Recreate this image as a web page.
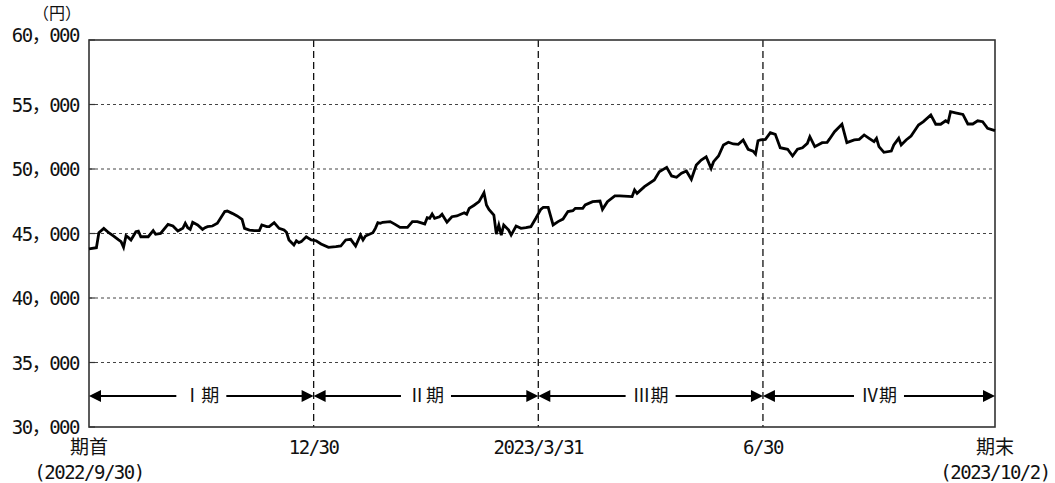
<!DOCTYPE html>
<html>
<head>
<meta charset="utf-8">
<script src="https://cdn.jsdelivr.net/npm/d3@7"></script>
<style>
  html, body { margin: 0; padding: 0; background: #fff; }
  #chart-container { width: 1055px; height: 483px; }
  text { font-family: "DejaVu Sans Mono", "Noto Sans CJK JP", monospace; fill: #111; }
</style>
</head>
<body>
<div id="chart-container"></div>
<script>
// Fund NAV over the fiscal year, split into four quarters

// NAV points (date, yen)
const navSeries = [
  ["2022-09-30", 43800], ["2022-10-03", 43900], ["2022-10-04", 45060], ["2022-10-06", 45400],
  ["2022-10-08", 45060], ["2022-10-10", 44800], ["2022-10-12", 44500], ["2022-10-13", 44370],
  ["2022-10-14", 43930], ["2022-10-15", 44830], ["2022-10-16", 44680], ["2022-10-17", 44500],
  ["2022-10-19", 45140], ["2022-10-20", 45190], ["2022-10-21", 44750], ["2022-10-24", 44750],
  ["2022-10-26", 45220], ["2022-10-27", 44940], ["2022-10-29", 45010], ["2022-11-01", 45710],
  ["2022-11-03", 45580], ["2022-11-05", 45190], ["2022-11-07", 45400], ["2022-11-08", 45790],
  ["2022-11-09", 45450], ["2022-11-10", 45320], ["2022-11-11", 45870], ["2022-11-13", 45660],
  ["2022-11-15", 45320], ["2022-11-16", 45450], ["2022-11-17", 45530], ["2022-11-19", 45580],
  ["2022-11-21", 45790], ["2022-11-24", 46700], ["2022-11-25", 46740], ["2022-11-27", 46560],
  ["2022-11-29", 46360], ["2022-12-01", 46100], ["2022-12-02", 45400], ["2022-12-04", 45270],
  ["2022-12-06", 45220], ["2022-12-08", 45220], ["2022-12-09", 45660], ["2022-12-11", 45530],
  ["2022-12-12", 45530], ["2022-12-14", 45840], ["2022-12-16", 45400], ["2022-12-18", 45270],
  ["2022-12-19", 45090], ["2022-12-20", 44500], ["2022-12-22", 44110], ["2022-12-23", 44440],
  ["2022-12-24", 44290], ["2022-12-25", 44370], ["2022-12-27", 44750], ["2022-12-29", 44500],
  ["2022-12-31", 44440], ["2023-01-02", 44190], ["2023-01-05", 43930], ["2023-01-08", 43980],
  ["2023-01-10", 44030], ["2023-01-12", 44500], ["2023-01-14", 44550], ["2023-01-16", 44030],
  ["2023-01-18", 44880], ["2023-01-19", 44500], ["2023-01-20", 44800], ["2023-01-23", 45060],
  ["2023-01-24", 45400], ["2023-01-25", 45840], ["2023-01-26", 45790], ["2023-01-27", 45870],
  ["2023-01-30", 45920], ["2023-02-01", 45710], ["2023-02-03", 45470], ["2023-02-06", 45470],
  ["2023-02-08", 45920], ["2023-02-10", 45920], ["2023-02-13", 45740], ["2023-02-14", 46230],
  ["2023-02-15", 46180], ["2023-02-16", 46510], ["2023-02-17", 46180], ["2023-02-19", 46300],
  ["2023-02-20", 46490], ["2023-02-22", 45870], ["2023-02-24", 46300], ["2023-02-26", 46360],
  ["2023-03-01", 46610], ["2023-03-02", 46490], ["2023-03-03", 46950], ["2023-03-05", 47190],
  ["2023-03-07", 47470], ["2023-03-09", 48160], ["2023-03-10", 47210], ["2023-03-11", 46870],
  ["2023-03-13", 46430], ["2023-03-14", 44960], ["2023-03-15", 45660], ["2023-03-16", 44880],
  ["2023-03-17", 45660], ["2023-03-19", 45270], ["2023-03-20", 44880], ["2023-03-22", 45580],
  ["2023-03-24", 45400], ["2023-03-26", 45450], ["2023-03-28", 45530], ["2023-03-30", 46180],
  ["2023-04-01", 46870], ["2023-04-02", 47020], ["2023-04-04", 47020], ["2023-04-06", 45660],
  ["2023-04-08", 45920], ["2023-04-10", 46120], ["2023-04-12", 46700], ["2023-04-14", 46770],
  ["2023-04-15", 46950], ["2023-04-18", 46950], ["2023-04-19", 47210], ["2023-04-22", 47470],
  ["2023-04-25", 47520], ["2023-04-26", 46870], ["2023-04-28", 47470], ["2023-05-01", 47910],
  ["2023-05-03", 47910], ["2023-05-08", 47860], ["2023-05-09", 48370], ["2023-05-10", 48110],
  ["2023-05-13", 48630], ["2023-05-17", 49150], ["2023-05-19", 49790], ["2023-05-22", 50130],
  ["2023-05-24", 49460], ["2023-05-26", 49360], ["2023-05-28", 49670], ["2023-05-30", 49850],
  ["2023-06-01", 49200], ["2023-06-03", 50310], ["2023-06-05", 50700], ["2023-06-07", 50950],
  ["2023-06-09", 50050], ["2023-06-10", 50570], ["2023-06-12", 51010], ["2023-06-14", 51860],
  ["2023-06-16", 52070], ["2023-06-18", 51940], ["2023-06-20", 51910], ["2023-06-22", 52250],
  ["2023-06-24", 51530], ["2023-06-26", 51390], ["2023-06-27", 51160], ["2023-06-28", 52190],
  ["2023-06-29", 52250], ["2023-07-01", 52300], ["2023-07-03", 52810], ["2023-07-05", 52690],
  ["2023-07-07", 51650], ["2023-07-10", 51530], ["2023-07-12", 51010], ["2023-07-14", 51530],
  ["2023-07-16", 51650], ["2023-07-18", 51990], ["2023-07-19", 52500], ["2023-07-21", 51730],
  ["2023-07-24", 52040], ["2023-07-26", 52070], ["2023-07-27", 52330], ["2023-07-29", 52890],
  ["2023-08-01", 53470], ["2023-08-03", 52040], ["2023-08-06", 52250], ["2023-08-08", 52300],
  ["2023-08-10", 52640], ["2023-08-12", 52380], ["2023-08-14", 52120], ["2023-08-15", 52380],
  ["2023-08-16", 51730], ["2023-08-18", 51290], ["2023-08-21", 51390], ["2023-08-22", 51860],
  ["2023-08-24", 52380], ["2023-08-25", 51860], ["2023-08-27", 52250], ["2023-08-29", 52560],
  ["2023-09-01", 53410], ["2023-09-03", 53670], ["2023-09-06", 54190], ["2023-09-08", 53470],
  ["2023-09-10", 53470], ["2023-09-12", 53740], ["2023-09-13", 53620], ["2023-09-14", 54440],
  ["2023-09-16", 54360], ["2023-09-19", 54230], ["2023-09-21", 53490], ["2023-09-23", 53490],
  ["2023-09-25", 53740], ["2023-09-27", 53670], ["2023-09-29", 53160], ["2023-10-02", 52970]
];

// Quarter boundaries and labels
const periodBounds = ["2022-09-30", "2022-12-30", "2023-03-31", "2023-06-30", "2023-10-02"];
const periodLabels = ["Ⅰ期", "Ⅱ期", "Ⅲ期", "Ⅳ期"];

// x-axis labels (one per boundary; second line in parentheses)
const xTickLabels = [
  ["期首", "(2022/9/30)"],
  ["12/30"],
  ["2023/3/31"],
  ["6/30"],
  ["期末", "(2023/10/2)"]
];

const yTicks = [30000, 35000, 40000, 45000, 50000, 55000, 60000];
const yUnit = "（円）";

function drawChart() {
  const width = 1055;
  const height = 483;
  const margin = { top: 40, right: 60, bottom: 56, left: 89 };
  const parse = d3.timeParse("%Y-%m-%d");

  const data = navSeries.map(([d, v]) => ({ date: parse(d), value: v }));
  const bounds = periodBounds.map(parse);

  const svg = d3
    .select("#chart-container")
    .append("svg")
    .attr("width", width)
    .attr("height", height)
    .attr("viewBox", `0 0 ${width} ${height}`);

  const x = d3
    .scaleTime()
    .domain([bounds[0], bounds[bounds.length - 1]])
    .range([margin.left, width - margin.right]);

  const y = d3
    .scaleLinear()
    .domain([yTicks[0], yTicks[yTicks.length - 1]])
    .range([height - margin.bottom, margin.top]);

  const x0 = x.range()[0], x1 = x.range()[1];
  const yTop = y.range()[1], yBot = y.range()[0];

  // Horizontal dotted gridlines (inner ticks only)
  svg
    .append("g")
    .selectAll("line")
    .data(yTicks.slice(1, -1))
    .enter()
    .append("line")
    .attr("x1", x0)
    .attr("x2", x1)
    .attr("y1", (d) => y(d))
    .attr("y2", (d) => y(d))
    .attr("stroke", "#444")
    .attr("stroke-width", 1)
    .attr("stroke-dasharray", "3,3");

  // small inward ticks on the left axis
  svg
    .append("g")
    .selectAll("line")
    .data(yTicks)
    .enter()
    .append("line")
    .attr("x1", x0)
    .attr("x2", x0 + 6)
    .attr("y1", (d) => y(d))
    .attr("y2", (d) => y(d))
    .attr("stroke", "#333")
    .attr("stroke-width", 1.2);

  // Vertical dashed quarter dividers
  svg
    .append("g")
    .selectAll("line")
    .data(bounds.slice(1, -1))
    .enter()
    .append("line")
    .attr("x1", (d) => x(d))
    .attr("x2", (d) => x(d))
    .attr("y1", yTop)
    .attr("y2", yBot)
    .attr("stroke", "#111")
    .attr("stroke-width", 1.3)
    .attr("stroke-dasharray", "7,4");

  // Frame
  svg
    .append("rect")
    .attr("x", x0)
    .attr("y", yTop)
    .attr("width", x1 - x0)
    .attr("height", yBot - yTop)
    .attr("fill", "none")
    .attr("stroke", "#333")
    .attr("stroke-width", 1.6);

  // Y labels
  const yFmt = (v) => d3.format(",")(v).replace(",", "，");
  svg
    .append("g")
    .selectAll("text")
    .data(yTicks)
    .enter()
    .append("text")
    .attr("x", x0 - 10)
    .attr("y", (d) => y(d) + (d === yTicks[yTicks.length - 1] ? 2 : 7))
    .attr("text-anchor", "end")
    .attr("font-size", 19)
    .attr("letter-spacing", -1.5)
    .text(yFmt);

  svg
    .append("text")
    .attr("x", 57)
    .attr("y", 19)
    .attr("text-anchor", "middle")
    .attr("font-size", 16)
    .style("font-family", '"Noto Sans CJK JP", sans-serif')
    .text(yUnit);

  // X labels
  const xLab = svg.append("g");
  xTickLabels.forEach((lines, i) => {
    const cx = x(bounds[i]);
    lines.forEach((t, j) => {
      const isCjk = /[期首末]/.test(t);
      xLab
        .append("text")
        .attr("x", cx)
        .attr("y", j === 0 ? 454 : 479)
        .attr("text-anchor", "middle")
        .attr("font-size", 19)
        .attr("letter-spacing", isCjk ? 0 : -1.5)
        .style("font-family", isCjk ? '"Noto Sans CJK JP", sans-serif' : null)
        .text(t);
    });
  });

  // Period arrows
  const arrowY = 396;
  const head = 12;
  const arrows = svg.append("g");
  periodLabels.forEach((label, i) => {
    const a = x(bounds[i]);
    const b = x(bounds[i + 1]);
    const mid = (a + b) / 2;

    arrows
      .append("line")
      .attr("x1", a + head - 1)
      .attr("x2", b - head + 1)
      .attr("y1", arrowY)
      .attr("y2", arrowY)
      .attr("stroke", "#000")
      .attr("stroke-width", 2);

    arrows
      .append("path")
      .attr("d", `M${a},${arrowY} L${a + head},${arrowY - 6} L${a + head},${arrowY + 6} Z`)
      .attr("fill", "#000");
    arrows
      .append("path")
      .attr("d", `M${b},${arrowY} L${b - head},${arrowY - 6} L${b - head},${arrowY + 6} Z`)
      .attr("fill", "#000");

    // white gap behind the label
    arrows
      .append("rect")
      .attr("x", mid - 25)
      .attr("y", arrowY - 10)
      .attr("width", 50)
      .attr("height", 20)
      .attr("fill", "#fff");

    arrows
      .append("text")
      .attr("x", mid)
      .attr("y", arrowY + 6)
      .attr("text-anchor", "middle")
      .attr("font-size", 18)
      .style("font-family", '"Noto Sans CJK JP", sans-serif')
      .text(label);
  });

  // NAV line
  const line = d3
    .line()
    .x((d) => x(d.date))
    .y((d) => y(d.value));

  svg
    .append("path")
    .datum(data)
    .attr("d", line)
    .attr("fill", "none")
    .attr("stroke", "#000")
    .attr("stroke-width", 2.8)
    .attr("stroke-linejoin", "miter");
}

if (document.readyState === "loading") {
  document.addEventListener("DOMContentLoaded", drawChart);
} else {
  drawChart();
}
</script>
</body>
</html>
